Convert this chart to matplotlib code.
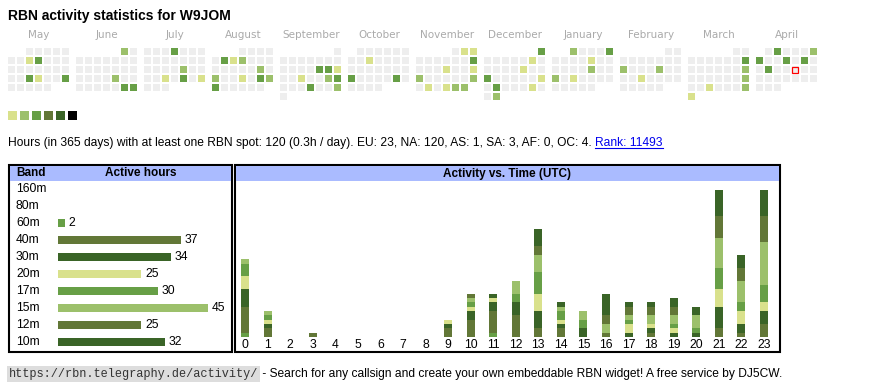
import datetime as dt
import matplotlib
matplotlib.use('Agg')
import matplotlib.pyplot as plt
from matplotlib.patches import Rectangle
from matplotlib.transforms import blended_transform_factory

plt.rcParams['font.family'] = ['Liberation Sans', 'DejaVu Sans']

# calendar: days with activity, by colour level
level1_days = ['2024-05-08', '2024-05-23', '2024-07-24', '2024-07-28', '2024-08-07', '2024-08-22',
               '2024-09-15', '2024-09-18', '2024-10-09', '2024-11-02', '2024-11-03', '2024-11-14',
               '2024-11-17', '2024-11-26', '2024-11-28', '2024-12-07', '2024-12-13', '2024-12-22',
               '2024-12-28', '2025-01-10', '2025-01-22', '2025-02-19', '2025-03-26', '2025-03-31']
level2_days = ['2024-06-01', '2024-06-21', '2024-07-19', '2024-08-08', '2024-08-17', '2024-08-19',
               '2024-08-25', '2024-09-21', '2024-09-29', '2024-11-18', '2024-11-24', '2024-11-29',
               '2024-11-30', '2024-12-31', '2025-01-01', '2025-01-17', '2025-01-20', '2025-02-10',
               '2025-02-14', '2025-03-16', '2025-03-23', '2025-03-30', '2025-04-06']
level3_days = ['2024-05-09', '2024-05-22', '2024-05-26', '2024-06-29', '2024-06-30', '2024-07-04',
               '2024-07-26', '2024-08-06', '2024-08-24', '2024-08-26', '2024-09-13', '2024-09-14',
               '2024-09-22', '2024-09-26', '2024-10-21', '2024-10-26', '2024-11-10', '2024-12-01',
               '2024-12-16', '2024-12-24', '2025-01-05', '2025-03-09', '2025-04-02', '2025-04-07',
               '2025-04-10', '2025-04-12', '2025-04-15']
today = '2025-04-18'
months = [(2024, 5), (2024, 6), (2024, 7), (2024, 8), (2024, 9), (2024, 10),
          (2024, 11), (2024, 12), (2025, 1), (2025, 2), (2025, 3), (2025, 4)]
month_names = ['May', 'June', 'July', 'August', 'September', 'October',
               'November', 'December', 'January', 'February', 'March', 'April']

level_colors = ['#eeeeee', '#d9e18c', '#9cc06b', '#679f46', '#627737', '#3a6427', '#000000']

bands = ['160m', '80m', '60m', '40m', '30m', '20m', '17m', '15m', '12m', '10m']
band_hours = [0, 0, 2, 37, 34, 25, 30, 45, 25, 32]
band_colors = ['#d9e18c', '#9cc06b', '#679f46', '#627737', '#3a6427',
               '#d9e18c', '#679f46', '#9cc06b', '#627737', '#3a6427']

# active hours per UTC hour, for each band
hours = list(range(24))
h160 = [0, 0, 0, 0, 0, 0, 0, 0, 0, 0, 0, 0, 0, 0, 0, 0, 0, 0, 0, 0, 0, 0, 0, 0]
h80 = [0, 0, 0, 0, 0, 0, 0, 0, 0, 0, 0, 0, 0, 0, 0, 0, 0, 0, 0, 0, 0, 0, 0, 0]
h60 = [1, 0, 0, 0, 0, 0, 0, 0, 0, 0, 0, 1, 0, 0, 0, 0, 0, 0, 0, 0, 0, 0, 0, 0]
h40 = [6, 2, 0, 1, 0, 0, 0, 0, 0, 2, 4, 5, 5, 2, 2, 0, 1, 0, 1, 0, 0, 2, 1, 3]
h30 = [4, 1, 0, 0, 0, 0, 0, 0, 0, 1, 2, 2, 3, 4, 1, 2, 0, 1, 1, 1, 1, 5, 2, 3]
h20 = [3, 1, 0, 0, 0, 0, 0, 0, 0, 1, 1, 1, 0, 4, 1, 0, 0, 2, 1, 1, 0, 4, 3, 2]
h17 = [3, 1, 0, 0, 0, 0, 0, 0, 0, 0, 1, 0, 2, 5, 2, 2, 0, 1, 0, 1, 1, 5, 2, 4]
h15 = [1, 1, 0, 0, 0, 0, 0, 0, 0, 0, 1, 0, 3, 4, 1, 2, 2, 1, 2, 2, 3, 7, 5, 10]
h12 = [0, 0, 0, 0, 0, 0, 0, 0, 0, 0, 1, 0, 0, 2, 0, 0, 2, 2, 2, 2, 0, 5, 3, 6]
h10 = [0, 0, 0, 0, 0, 0, 0, 0, 0, 0, 0, 1, 0, 4, 1, 0, 5, 1, 1, 2, 2, 6, 3, 6]
per_hour = [h160, h80, h60, h40, h30, h20, h17, h15, h12, h10]

title = 'RBN activity statistics for W9JOM'
summary = ('Hours (in 365 days) with at least one RBN spot: 120 (0.3h / day). '
           'EU: 23, NA: 120, AS: 1, SA: 3, AF: 0, OC: 4. ')
rank = 'Rank: 11493'
url = 'https://rbn.telegraphy.de/activity/'
footer = ' - Search for any callsign and create your own embeddable RBN widget! A free service by DJ5CW.'

W, H = 870, 390
fig = plt.figure(figsize=(W / 100, H / 100), dpi=100)
base = fig.add_axes([0, 0, 1, 1])
base.set_xlim(0, W)
base.set_ylim(H, 0)
base.axis('off')

base.text(8, 16, title, fontsize=10, fontweight='bold', va='center')

# calendar
levels = {}
for lv, days in enumerate([level1_days, level2_days, level3_days], start=1):
    for d in days:
        levels[d] = lv
for m, (yy, mm) in enumerate(months):
    x0 = 8 + 68 * m
    base.text(x0 + 31, 35, month_names[m], fontsize=7.5, color='#aaaaaa', ha='center',
              va='center', family='DejaVu Sans')
    first = dt.date(yy, mm, 1)
    d = first
    while d.month == mm:
        row = (d.day - 1 + first.weekday()) // 7
        x = x0 + 9 * d.weekday()
        y = 48 + 9 * row
        key = d.isoformat()
        base.add_patch(Rectangle((x, y), 7, 7, color=level_colors[levels.get(key, 0)], lw=0))
        if key == today:
            base.add_patch(Rectangle((x + 0.5, y + 0.5), 6, 6, fill=False, ec='red', lw=0.9))
        d += dt.timedelta(days=1)

for i, c in enumerate(level_colors[1:]):
    base.add_patch(Rectangle((8 + 12 * i, 111), 9, 9, color=c, lw=0))

t1 = base.text(8, 146, summary, fontsize=8.65, va='baseline')
fig.canvas.draw()
inv = base.transData.inverted()
bb = t1.get_window_extent()
xr = inv.transform((bb.x1, bb.y0))[0]
t2 = base.text(xr, 146, rank, fontsize=8.65, va='baseline', color='#0000ee')
fig.canvas.draw()
bb2 = t2.get_window_extent()
(ax0, _), (ax1, _) = inv.transform([(bb2.x0, 0), (bb2.x1, 0)])
base.plot([ax0, ax1], [147.5, 147.5], color='#0000ee', lw=0.8)

# boxes and headers
base.add_patch(Rectangle((9, 165), 223, 187, fill=False, ec='black', lw=1.5))
base.add_patch(Rectangle((235, 165), 545, 187, fill=False, ec='black', lw=1.5))
base.add_patch(Rectangle((10, 166), 221, 14.5, color='#aabbff', lw=0))
base.add_patch(Rectangle((236, 166), 543, 14.5, color='#aabbff', lw=0))
base.text(16, 173.5, 'Band', fontsize=8.5, fontweight='bold', va='center')
base.text(141, 173.5, 'Active hours', fontsize=8.5, fontweight='bold', va='center', ha='center')
base.text(507, 173.5, 'Activity vs. Time (UTC)', fontsize=8.5, fontweight='bold',
          va='center', ha='center')

# band bars
bax = fig.add_axes([58 / W, (H - 350.5) / H, 173.3 / W, 170 / H])
bax.set_xlim(0, 52)
bax.set_ylim(9.5, -0.5)
bax.axis('off')
bax.barh(range(len(bands)), band_hours, height=0.45, color=band_colors)
tr = blended_transform_factory(base.transData, bax.transData)
for i, (b, v) in enumerate(zip(bands, band_hours)):
    bax.text(16, i, b, transform=tr, fontsize=8.7, va='center')
    if v > 0:
        bax.text(v + 1.1, i, str(v), fontsize=8.7, va='center')

# hour bars
hax = fig.add_axes([233.7 / W, (H - 337) / H, 541.6 / W, 147 / H])
hax.set_xlim(-0.5, 23.5)
hax.set_ylim(0, 34)
bottom = [0] * 24
for vals, c in zip(per_hour, band_colors):
    hax.bar(hours, vals, bottom=bottom, width=0.354, color=c, lw=0)
    bottom = [a + b for a, b in zip(bottom, vals)]
hax.set_xticks(hours)
hax.set_xticklabels([str(h) for h in hours], fontsize=8.7)
hax.tick_params(axis='x', length=0, pad=1.5)
hax.set_yticks([])
for s in hax.spines.values():
    s.set_visible(False)
hax.patch.set_alpha(0)

# footer
t3 = base.text(9, 374, url, fontsize=8.6, family='Liberation Mono', va='center', color='#333333',
               bbox=dict(facecolor='#dddddd', edgecolor='none', pad=1.2))
fig.canvas.draw()
bb3 = t3.get_window_extent()
xf = inv.transform((bb3.x1, 0))[0]
base.text(xf + 1, 374, footer, fontsize=8.65, va='center')

fig.savefig('out.png', dpi=100)
